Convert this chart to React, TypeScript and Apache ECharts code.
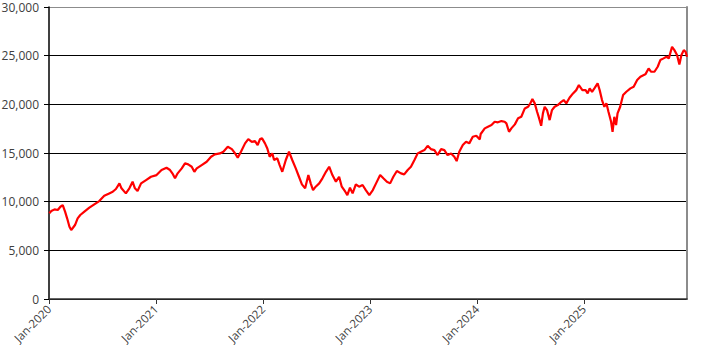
import React, { useEffect, useRef } from "react";
import * as echarts from "echarts";

const dates: string[] = [
  "2020-01-02", "2020-01-09", "2020-01-20", "2020-01-31", "2020-02-09", "2020-02-17", "2020-02-25",
  "2020-03-03", "2020-03-11", "2020-03-17", "2020-03-23", "2020-03-30", "2020-04-08", "2020-04-17",
  "2020-05-01", "2020-05-18", "2020-06-04", "2020-06-21", "2020-07-08", "2020-07-25", "2020-08-06",
  "2020-08-17", "2020-08-29", "2020-09-05", "2020-09-20", "2020-10-02", "2020-10-13", "2020-10-21",
  "2020-10-30", "2020-11-11", "2020-11-28", "2020-12-15",
  "2021-01-03", "2021-01-20", "2021-02-06", "2021-02-18", "2021-02-26", "2021-03-07", "2021-03-16",
  "2021-03-30", "2021-04-10", "2021-04-21", "2021-05-03", "2021-05-12", "2021-05-20", "2021-06-06",
  "2021-06-23", "2021-07-08", "2021-07-21", "2021-08-07", "2021-08-19", "2021-09-03", "2021-09-17",
  "2021-09-28", "2021-10-07", "2021-10-18", "2021-11-01", "2021-11-12", "2021-11-24", "2021-12-05",
  "2021-12-14", "2021-12-22", "2021-12-29",
  "2022-01-08", "2022-01-16", "2022-01-24", "2022-02-02", "2022-02-08", "2022-02-19", "2022-02-27",
  "2022-03-08", "2022-03-20", "2022-03-31", "2022-04-11", "2022-04-23", "2022-05-04", "2022-05-14",
  "2022-05-25", "2022-06-05", "2022-06-13", "2022-06-21", "2022-06-30", "2022-07-12", "2022-07-23",
  "2022-08-04", "2022-08-15", "2022-08-26", "2022-09-07", "2022-09-18", "2022-09-27", "2022-10-09",
  "2022-10-16", "2022-10-25", "2022-11-03", "2022-11-14", "2022-11-25", "2022-12-07", "2022-12-18",
  "2022-12-30",
  "2023-01-11", "2023-01-22", "2023-02-05", "2023-02-16", "2023-02-28", "2023-03-11", "2023-03-22",
  "2023-04-03", "2023-04-17", "2023-04-28", "2023-05-10", "2023-05-21", "2023-06-02", "2023-06-13",
  "2023-06-24", "2023-07-06", "2023-07-17", "2023-07-28", "2023-08-09", "2023-08-20", "2023-09-01",
  "2023-09-12", "2023-09-23", "2023-10-05", "2023-10-16", "2023-10-24", "2023-11-02", "2023-11-14",
  "2023-11-25", "2023-12-06", "2023-12-18", "2023-12-30",
  "2024-01-11", "2024-01-14", "2024-01-28", "2024-02-08", "2024-02-20", "2024-03-02", "2024-03-13",
  "2024-03-25", "2024-04-05", "2024-04-11", "2024-04-20", "2024-04-28", "2024-05-10", "2024-05-21",
  "2024-06-01", "2024-06-13", "2024-06-24", "2024-07-02", "2024-07-09", "2024-07-17", "2024-07-25",
  "2024-08-01", "2024-08-08", "2024-08-14", "2024-08-20", "2024-08-28", "2024-09-06", "2024-09-14",
  "2024-09-23", "2024-10-04", "2024-10-16", "2024-10-24", "2024-11-02", "2024-11-13", "2024-11-25",
  "2024-12-06", "2024-12-15", "2024-12-27",
  "2025-01-07", "2025-01-14", "2025-01-21", "2025-01-29", "2025-02-06", "2025-02-17", "2025-02-24",
  "2025-03-04", "2025-03-12", "2025-03-19", "2025-03-26", "2025-04-04", "2025-04-09", "2025-04-15",
  "2025-04-21", "2025-04-26", "2025-05-05", "2025-05-15", "2025-05-26", "2025-06-09", "2025-06-20",
  "2025-07-02", "2025-07-13", "2025-07-30", "2025-08-10", "2025-08-18", "2025-08-30", "2025-09-10",
  "2025-09-19", "2025-09-30", "2025-10-10", "2025-10-18", "2025-10-29", "2025-11-06", "2025-11-15",
  "2025-11-23", "2025-11-30", "2025-12-08", "2025-12-14", "2025-12-19",
];

const values: number[] = [
  8800, 9040, 9210, 9140, 9480, 9650, 8970,
  8290, 7430, 7090, 7320, 7600, 8290, 8630,
  8970, 9380, 9720, 10060, 10610, 10850, 11020,
  11300, 11880, 11370, 10850, 11370, 12050, 11370,
  11090, 11880, 12220, 12560,
  12730, 13250, 13480, 13250, 12910, 12400, 12910,
  13420, 13940, 13830, 13590, 13070, 13420, 13760,
  14100, 14610, 14860, 14960, 15130, 15640, 15400,
  14960, 14510, 15130, 15990, 16430, 16150, 16230,
  15820, 16430, 16500,
  15990, 15470, 14610, 14960, 14280, 14450, 13760,
  13070, 14280, 15130, 14280, 13420, 12560, 11780,
  11370, 12730, 11880, 11190, 11540, 11880, 12400,
  13070, 13590, 12730, 12050, 12560, 11540, 11020,
  10680, 11430, 10850, 11780, 11540, 11710, 11190,
  10680,
  11190, 11880, 12730, 12400, 12050, 11880, 12560,
  13150, 12910, 12800, 13250, 13590, 14280, 14960,
  15130, 15300, 15740, 15400, 15300, 14790, 15400,
  15300, 14790, 14960, 14610, 14170, 15130, 15820,
  16150, 15990, 16670, 16770,
  16400, 16950, 17530, 17700, 17870, 18210, 18150,
  18280, 18210, 18040, 17180, 17530, 17940, 18560,
  18720, 19580, 19750, 20100, 20540, 20100, 19240,
  18560, 17800, 19070, 19750, 19410, 18380, 19410,
  19750, 19920, 20260, 20440, 20100, 20670, 21120,
  21460, 21980, 21460,
  21460, 21120, 21640, 21290, 21640, 22150, 21460,
  20440, 19750, 20100, 19240, 18210, 17180, 18720,
  17870, 19070, 19750, 20950, 21290, 21640, 21810,
  22490, 22830, 23080, 23690, 23350, 23350, 23860,
  24550, 24720, 24890, 24720, 25910, 25570, 25060,
  24100, 25060, 25570, 25400, 24890,
];

const yTicks: number[] = [0, 5000, 10000, 15000, 20000, 25000, 30000];
const xYears: number[] = [2020, 2021, 2022, 2023, 2024, 2025];

function toYear(s: string): number {
  const [y, m, d] = s.split("-").map(Number);
  const t = Date.UTC(y, m - 1, d);
  const start = Date.UTC(y, 0, 1);
  const end = Date.UTC(y + 1, 0, 1);
  return y + (t - start) / (end - start);
}

export default function App() {
  const ref = useRef<HTMLDivElement>(null);
  useEffect(() => {
    if (!ref.current) return;
    const chart = echarts.init(ref.current, null, { renderer: "svg" });
    const seriesData = dates.map((d, i) => [toYear(d), values[i]]);
    const xMax = toYear(dates[dates.length - 1]);
    const font = "'Open Sans', 'Noto Sans', sans-serif";
    const splitColors = yTicks.map((v, i) => (i === yTicks.length - 1 ? "#8c8c8c" : "#000000"));
    chart.setOption({
      animation: false,
      backgroundColor: "#ffffff",
      grid: {
        left: 49,
        right: 19,
        top: 7,
        bottom: 58,
        containLabel: false,
        outerBoundsMode: "none",
      },
      xAxis: {
        type: "value",
        min: xYears[0],
        max: xMax,
        interval: 1,
        axisLine: { show: true, lineStyle: { color: "#333333", width: 1.5 } },
        axisTick: {
          show: true,
          length: 5,
          lineStyle: { color: "#333333", width: 1 },
          customValues: xYears,
        },
        axisLabel: {
          rotate: 45,
          margin: 8,
          fontFamily: font,
          fontSize: 11.5,
          color: "#404040",
          customValues: xYears,
          formatter: (v: number) => "Jan-" + Math.round(v),
        },
        splitLine: { show: false },
      },
      yAxis: [
        {
          type: "value",
          min: 0,
          max: 30000,
          interval: 5000,
          axisLine: { show: true, lineStyle: { color: "#000000", width: 1.5 } },
          axisTick: { show: true, length: 5, lineStyle: { color: "#000000" } },
          axisLabel: {
            margin: 10,
            fontFamily: font,
            fontSize: 12,
            color: "#404040",
            formatter: (v: number) => v.toLocaleString("en-US"),
          },
          splitLine: { show: true, lineStyle: { color: splitColors, width: 1 } },
        },
        {
          type: "value",
          position: "right",
          min: 0,
          max: 30000,
          interval: 5000,
          axisLine: { show: true, lineStyle: { color: "#8c8c8c", width: 2 } },
          axisTick: { show: false },
          axisLabel: { show: false },
          splitLine: { show: false },
        },
      ],
      series: [
        {
          type: "line",
          data: seriesData,
          showSymbol: false,
          symbol: "none",
          lineStyle: { color: "#ff0000", width: 2.2 },
          yAxisIndex: 0,
        },
      ],
    });
    return () => chart.dispose();
  }, []);
  return (
    <div
      ref={ref}
      style={{ position: "fixed", left: 0, top: 0, width: 706, height: 357 }}
    />
  );
}
